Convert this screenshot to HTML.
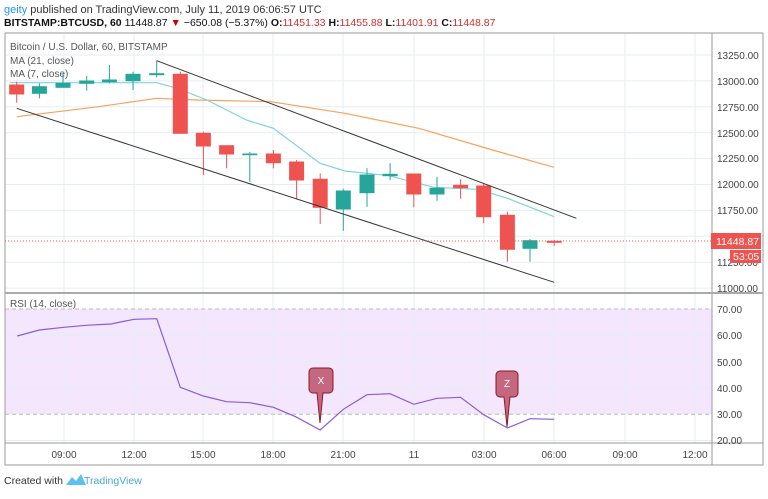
<!DOCTYPE html>
<html><head><meta charset="utf-8"><style>
body{margin:0;background:#fff;width:768px;height:494px;overflow:hidden;font-family:"Liberation Sans",sans-serif}
</style></head><body>
<svg width="768" height="494" xmlns="http://www.w3.org/2000/svg" font-family="Liberation Sans, sans-serif">
<text x="4" y="13" font-size="11" fill="#333"><tspan fill="#2196f3">geity</tspan> published on TradingView.com, July 11, 2019 06:06:57 UTC</text>
<text x="4" y="26" font-size="10.5" fill="#111"><tspan font-weight="bold">BITSTAMP:BTCUSD, 60</tspan> 11448.87 <tspan fill="#c00">▼</tspan> −650.08 (−5.37%) <tspan font-weight="bold">O:</tspan><tspan fill="#d32f2f">11451.33</tspan> <tspan font-weight="bold">H:</tspan><tspan fill="#d32f2f">11455.88</tspan> <tspan font-weight="bold">L:</tspan><tspan fill="#d32f2f">11401.91</tspan> <tspan font-weight="bold">C:</tspan><tspan fill="#d32f2f">11448.87</tspan></text>
<!-- RSI band -->
<rect x="5" y="309" width="707" height="105" fill="#f3e6fd"/>
<!-- grid -->
<g stroke="#e6eef3" stroke-width="1">
<line x1="64" y1="33" x2="64" y2="443"/><line x1="134" y1="33" x2="134" y2="443"/><line x1="203" y1="33" x2="203" y2="443"/><line x1="273" y1="33" x2="273" y2="443"/><line x1="343" y1="33" x2="343" y2="443"/><line x1="414" y1="33" x2="414" y2="443"/><line x1="484" y1="33" x2="484" y2="443"/><line x1="554" y1="33" x2="554" y2="443"/><line x1="625" y1="33" x2="625" y2="443"/><line x1="695" y1="33" x2="695" y2="443"/>
<line x1="5" y1="55" x2="712" y2="55"/><line x1="5" y1="80.9" x2="712" y2="80.9"/><line x1="5" y1="106.8" x2="712" y2="106.8"/><line x1="5" y1="132.7" x2="712" y2="132.7"/><line x1="5" y1="158.6" x2="712" y2="158.6"/><line x1="5" y1="184.5" x2="712" y2="184.5"/><line x1="5" y1="210.4" x2="712" y2="210.4"/><line x1="5" y1="236.3" x2="712" y2="236.3"/><line x1="5" y1="262.2" x2="712" y2="262.2"/><line x1="5" y1="288.1" x2="712" y2="288.1"/>
<line x1="5" y1="335.3" x2="712" y2="335.3"/><line x1="5" y1="361.6" x2="712" y2="361.6"/><line x1="5" y1="387.9" x2="712" y2="387.9"/><line x1="5" y1="440.5" x2="712" y2="440.5"/>
</g>
<g stroke="#bbb" stroke-dasharray="4,3"><line x1="5" y1="309" x2="712" y2="309"/><line x1="5" y1="414.2" x2="712" y2="414.2"/></g>
<!-- frame -->
<g stroke="#999" fill="none"><rect x="5" y="33" width="758" height="432"/><line x1="712" y1="33" x2="712" y2="465"/><line x1="5" y1="293" x2="763" y2="293" stroke-width="2" stroke="#aaa"/><line x1="5" y1="443" x2="763" y2="443"/></g>
<!-- price labels -->
<g font-size="10" fill="#444">
<text x="717" y="59">13250.00</text><text x="717" y="85">13000.00</text><text x="717" y="111">12750.00</text><text x="717" y="137">12500.00</text><text x="717" y="162">12250.00</text><text x="717" y="188">12000.00</text><text x="717" y="214">11750.00</text><text x="717" y="266">11250.00</text><text x="717" y="292">11000.00</text>
<text x="717" y="313">70.00</text><text x="717" y="339">60.00</text><text x="717" y="366">50.00</text><text x="717" y="392">40.00</text><text x="717" y="418">30.00</text><text x="717" y="444">20.00</text>
</g>
<g font-size="10" fill="#444" text-anchor="middle">
<text x="64" y="458">09:00</text><text x="134" y="458">12:00</text><text x="203" y="458">15:00</text><text x="273" y="458">18:00</text><text x="343" y="458">21:00</text><text x="414" y="458">11</text><text x="484" y="458">03:00</text><text x="554" y="458">06:00</text><text x="625" y="458">09:00</text><text x="695" y="458">12:00</text>
</g>
<text x="10" y="50" font-size="10" fill="#555">Bitcoin / U.S. Dollar, 60, BITSTAMP</text>
<text x="10" y="64" font-size="10" fill="#555">MA (21, close)</text>
<text x="10" y="77" font-size="10" fill="#555">MA (7, close)</text>
<text x="10" y="307" font-size="10" fill="#555">RSI (14, close)</text>
<!-- MAs -->
<polyline fill="none" stroke="#f7a35c" stroke-width="1.2" points="16.7,116.7 98.5,106.7 156.7,98.3 197,100 270.9,101.7 344.8,113.3 418.7,128.3 492.6,150 554.2,167.3"/>
<polyline fill="none" stroke="#7dd3e0" stroke-width="1.2" points="9.9,82.7 156.7,82.7 177.3,88.3 206.9,100 246.3,120 273.4,128.3 320.2,163.3 344.8,171 389.2,175.7 433.5,187.3 477.8,189.3 507.4,198.3 554.2,216.7"/>
<!-- candles -->
<g stroke-width="1">
<g fill="#ef5350" stroke="#ef5350">
<line x1="16.7" y1="81.7" x2="16.7" y2="102.7"/><rect x="9.7" y="85" width="14" height="9"/>
<line x1="180.3" y1="71.7" x2="180.3" y2="133.3"/><rect x="173.3" y="74.3" width="14" height="59"/>
<line x1="203.4" y1="131.7" x2="203.4" y2="175"/><rect x="196.4" y="133.3" width="14" height="12.7"/>
<line x1="226.6" y1="145.7" x2="226.6" y2="168.3"/><rect x="219.6" y="145.7" width="14" height="8.3"/>
<line x1="273.4" y1="150" x2="273.4" y2="168.3"/><rect x="266.4" y="154" width="14" height="8.7"/>
<line x1="296.6" y1="160" x2="296.6" y2="199.3"/><rect x="289.6" y="162" width="14" height="18"/>
<line x1="320.2" y1="173.3" x2="320.2" y2="224"/><rect x="313.2" y="179.3" width="14" height="28"/>
<line x1="413.8" y1="174" x2="413.8" y2="207.3"/><rect x="406.8" y="174" width="14" height="20"/>
<line x1="460.6" y1="179.3" x2="460.6" y2="198.7"/><rect x="453.6" y="185.3" width="14" height="2.4"/>
<line x1="483.7" y1="183.3" x2="483.7" y2="223.3"/><rect x="476.7" y="186" width="14" height="30.7"/>
<line x1="507.4" y1="211.7" x2="507.4" y2="261.7"/><rect x="500.4" y="215.3" width="14" height="34"/>
<line x1="554.2" y1="240" x2="554.2" y2="246"/><rect x="547.2" y="241.3" width="14" height="1"/>
</g>
<g fill="#26a69a" stroke="#26a69a">
<line x1="39.4" y1="83.3" x2="39.4" y2="98.3"/><rect x="32.4" y="86.7" width="14" height="6.6"/>
<line x1="63" y1="73.3" x2="63" y2="87.3"/><rect x="56" y="83.3" width="14" height="4"/>
<line x1="86.7" y1="76" x2="86.7" y2="90.7"/><rect x="79.7" y="81" width="14" height="2.3"/>
<line x1="109.4" y1="65" x2="109.4" y2="83.3"/><rect x="102.4" y="80" width="14" height="1.7"/>
<line x1="133" y1="71.7" x2="133" y2="90"/><rect x="126" y="74.3" width="14" height="6.4"/>
<line x1="156.7" y1="60.7" x2="156.7" y2="77.3"/><rect x="149.7" y="73.7" width="14" height="1"/>
<line x1="249.8" y1="152" x2="249.8" y2="181.7"/><rect x="242.8" y="154" width="14" height="0.7"/>
<line x1="343.3" y1="188.7" x2="343.3" y2="230.7"/><rect x="336.3" y="191" width="14" height="18"/>
<line x1="367" y1="168.3" x2="367" y2="206.7"/><rect x="360" y="175" width="14" height="17.7"/>
<line x1="390.1" y1="163.3" x2="390.1" y2="180"/><rect x="383.1" y="174.3" width="14" height="1.4"/>
<line x1="437" y1="176.7" x2="437" y2="200.7"/><rect x="430" y="188.3" width="14" height="5.7"/>
<line x1="530" y1="239" x2="530" y2="261.7"/><rect x="523" y="240.7" width="14" height="7.6"/>
</g></g>
<!-- channel -->
<line x1="156.7" y1="60.7" x2="576.4" y2="218.3" stroke="#333" stroke-width="1"/>
<line x1="16.7" y1="108.3" x2="554.2" y2="282.3" stroke="#333" stroke-width="1"/>
<!-- price line -->
<line x1="5" y1="241" x2="712" y2="241" stroke="#ef5350" stroke-dasharray="1,2"/>
<rect x="711" y="233" width="50" height="16" fill="#ef5350"/><text x="716" y="245" font-size="10.5" fill="#fff">11448.87</text>
<rect x="730" y="250" width="31" height="13" fill="#ef5350"/><text x="733" y="260" font-size="10.5" fill="#fff">53:05</text>
<!-- RSI -->
<polyline fill="none" stroke="#8a5cd8" stroke-width="1.2" points="17.2,336 39.4,330 64,327.3 86.2,325.3 110.8,324 134,319.3 156.7,318.7 180.3,387.3 203.4,396 226.6,401.7 249.8,402.7 273.4,407.3 295.6,416.7 320.2,430 343.3,409.3 367,394.7 390.1,393.7 413.8,404.3 437,398.3 460.6,397.3 483.7,414.7 507.4,428 530,418.7 554.2,419.3"/>
<!-- markers -->
<g fill="#c4677f" stroke="#8b1a2a" stroke-width="1">
<path d="M313,368 h16 a4,4 0 0 1 4,4 v17 a4,4 0 0 1 -4,4 h-6 l-3,30 l-3,-30 h-4 a4,4 0 0 1 -4,-4 v-17 a4,4 0 0 1 4,-4z"/>
<path d="M500,371 h14 a4,4 0 0 1 4,4 v18 a4,4 0 0 1 -4,4 h-4 l-3,30 l-3,-30 h-4 a4,4 0 0 1 -4,-4 v-18 a4,4 0 0 1 4,-4z"/>
</g>
<text x="321" y="384" font-size="10" fill="#fff" text-anchor="middle">X</text>
<text x="507" y="387" font-size="10" fill="#fff" text-anchor="middle">Z</text>
<!-- footer -->
<text x="4" y="484" font-size="10.5" fill="#333">Created with</text>
<path d="M66,485 l6,-8 l4,4 l5,-7 l5,11z" fill="#5bc0eb"/>
<text x="84" y="484" font-size="10.5" fill="#4aa8d8">TradingView</text>
</svg>
</body></html>
